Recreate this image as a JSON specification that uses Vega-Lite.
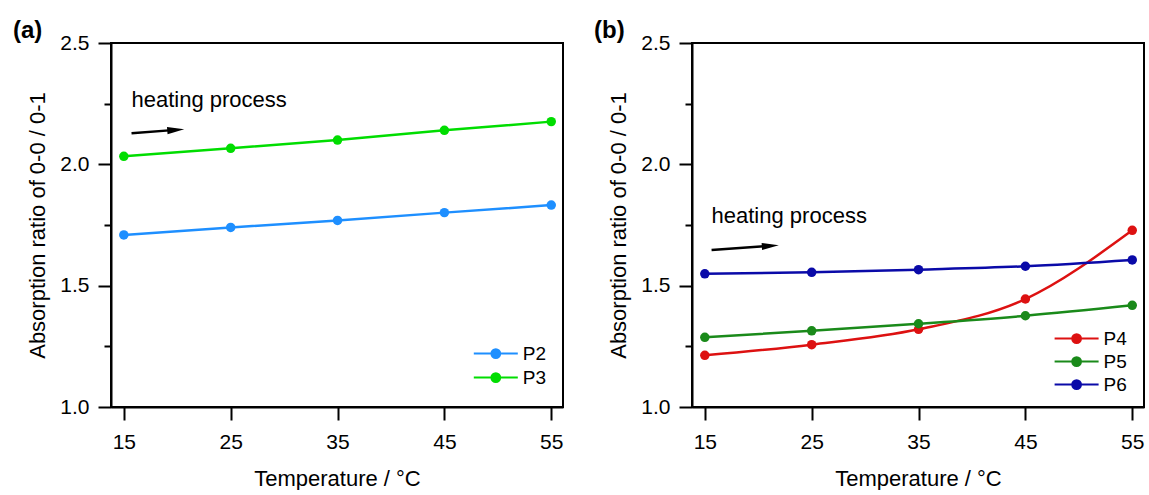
{
  "$schema": "https://vega.github.io/schema/vega-lite/v6.json",
  "padding": {"left": 12, "top": 18, "right": 0, "bottom": 0},
  "background": "white",
  "spacing": 129,
  "bounds": "flush",
  "config": {
    "font": "Liberation Sans",
    "view": {"stroke": "black", "strokeWidth": 2},
    "axis": {
      "domainColor": "black", "domainWidth": 2, "tickColor": "black", "tickWidth": 2,
      "labelColor": "black", "titleColor": "black", "labelFont": "Liberation Sans", "titleFont": "Liberation Sans",
      "labelFontSize": 21, "titleFontSize": 22, "titleFontWeight": "normal", "grid": false,
      "labelOverlap": false, "labelFlush": false
    },
    "title": {"font": "Liberation Sans", "fontSize": 24, "fontWeight": "bold", "anchor": "start", "frame": "group", "color": "black", "dx": -98, "offset": -11},
    "legend": {
      "orient": "none", "title": null, "padding": 0,
      "symbolType": "M-2,0H2M-0.4,0A0.4,0.4 0 1 1 0.4,0A0.4,0.4 0 1 1 -0.4,0Z",
      "symbolSize": 484, "symbolStrokeWidth": 2,
      "labelFont": "Liberation Sans", "labelFontSize": 19, "labelColor": "black", "labelOffset": 15
    }
  },
  "datasets": {
    "a": [
      {"T": 15, "R": 1.709, "S": "P2"}, {"T": 25, "R": 1.740, "S": "P2"}, {"T": 35, "R": 1.769, "S": "P2"}, {"T": 45, "R": 1.801, "S": "P2"}, {"T": 55, "R": 1.832, "S": "P2"},
      {"T": 15, "R": 2.033, "S": "P3"}, {"T": 25, "R": 2.066, "S": "P3"}, {"T": 35, "R": 2.100, "S": "P3"}, {"T": 45, "R": 2.140, "S": "P3"}, {"T": 55, "R": 2.176, "S": "P3"}
    ],
    "b": [
      {"T": 15, "R": 1.213, "S": "P4"}, {"T": 25, "R": 1.257, "S": "P4"}, {"T": 35, "R": 1.320, "S": "P4"}, {"T": 45, "R": 1.445, "S": "P4"}, {"T": 55, "R": 1.728, "S": "P4"},
      {"T": 15, "R": 1.287, "S": "P5"}, {"T": 25, "R": 1.314, "S": "P5"}, {"T": 35, "R": 1.343, "S": "P5"}, {"T": 45, "R": 1.376, "S": "P5"}, {"T": 55, "R": 1.419, "S": "P5"},
      {"T": 15, "R": 1.549, "S": "P6"}, {"T": 25, "R": 1.555, "S": "P6"}, {"T": 35, "R": 1.566, "S": "P6"}, {"T": 45, "R": 1.580, "S": "P6"}, {"T": 55, "R": 1.606, "S": "P6"}
    ],
    "annA": [{"x": 15.72, "y": 2.128, "x2": 19.86, "y2": 2.142, "label": "heating process", "ly": 2.237}],
    "annB": [{"x": 15.63, "y": 1.647, "x2": 21.13, "y2": 1.664, "label": "heating process", "ly": 1.757}]
  },
  "resolve": {"scale": {"color": "independent"}, "legend": {"color": "independent"}},
  "hconcat": [
    {
      "width": 452, "height": 364,
      "title": {"text": "(a)"},
      "layer": [
        {
          "data": {"name": "a"},
          "mark": {"type": "line", "strokeWidth": 2.5, "point": {"filled": true, "size": 90}},
          "encoding": {
            "x": {"field": "T", "type": "quantitative", "scale": {"domain": [13.8, 56.1], "nice": false, "zero": false},
              "axis": {"title": "Temperature / °C", "values": [15, 25, 35, 45, 55], "tickSize": 13, "labelPadding": 11, "titlePadding": 16,
                "labelFontSize": 21, "titleFontSize": 22, "labelFont": "Liberation Sans", "titleFont": "Liberation Sans"}},
            "y": {"field": "R", "type": "quantitative", "scale": {"domain": [1, 2.5], "nice": false, "zero": false},
              "axis": {"title": "Absorption ratio of 0-0 / 0-1", "values": [1, 1.25, 1.5, 1.75, 2, 2.25, 2.5],
                "labelExpr": "(datum.value*4) % 2 == 1 ? '' : format(datum.value, '.1f')",
                "tickSize": {"condition": {"test": "(datum.value*4) % 2 == 1", "value": 7}, "value": 13},
                "labelPadding": 9, "titlePadding": 10,
                "labelFontSize": 21, "titleFontSize": 22, "labelFont": "Liberation Sans", "titleFont": "Liberation Sans"}},
            "color": {"field": "S", "type": "nominal", "scale": {"domain": ["P2", "P3"], "range": ["#1E8FFF", "#00DD00"]},
              "legend": {"legendX": 372.8, "legendY": 298.6, "rowPadding": 2,
                "encode": {"symbols": {"update": {
                  "fill": {"signal": "datum.value === 'P2' ? '#1E8FFF' : '#00DD00'"},
                  "stroke": {"signal": "datum.value === 'P2' ? '#1E8FFF' : '#00DD00'"},
                  "strokeWidth": {"value": 2}, "opacity": {"value": 1}}}}}}
          }
        },
        {
          "data": {"name": "annA"},
          "mark": {"type": "rule", "strokeWidth": 2.5, "color": "black"},
          "encoding": {
            "x": {"field": "x", "type": "quantitative"}, "y": {"field": "y", "type": "quantitative"},
            "x2": {"field": "x2"}, "y2": {"field": "y2"}
          }
        },
        {
          "data": {"name": "annA"},
          "mark": {"type": "point", "shape": "M-1,-0.42L1,0L-1,0.42Z", "size": 289, "filled": true, "color": "black", "opacity": 1, "angle": 355.3},
          "encoding": {
            "x": {"field": "x2", "type": "quantitative"}, "y": {"field": "y2", "type": "quantitative"}
          }
        },
        {
          "data": {"name": "annA"},
          "mark": {"type": "text", "align": "left", "baseline": "alphabetic", "fontSize": 22, "font": "Liberation Sans", "color": "black"},
          "encoding": {
            "x": {"field": "x", "type": "quantitative"}, "y": {"field": "ly", "type": "quantitative"},
            "text": {"field": "label"}
          }
        }
      ]
    },
    {
      "width": 452, "height": 364,
      "title": {"text": "(b)"},
      "layer": [
        {
          "data": {"name": "b"},
          "mark": {"type": "line", "strokeWidth": 2.5, "interpolate": "monotone", "point": {"filled": true, "size": 90}},
          "encoding": {
            "x": {"field": "T", "type": "quantitative", "scale": {"domain": [13.8, 56.1], "nice": false, "zero": false},
              "axis": {"title": "Temperature / °C", "values": [15, 25, 35, 45, 55], "tickSize": 13, "labelPadding": 11, "titlePadding": 16,
                "labelFontSize": 21, "titleFontSize": 22, "labelFont": "Liberation Sans", "titleFont": "Liberation Sans"}},
            "y": {"field": "R", "type": "quantitative", "scale": {"domain": [1, 2.5], "nice": false, "zero": false},
              "axis": {"title": "Absorption ratio of 0-0 / 0-1", "values": [1, 1.25, 1.5, 1.75, 2, 2.25, 2.5],
                "labelExpr": "(datum.value*4) % 2 == 1 ? '' : format(datum.value, '.1f')",
                "tickSize": {"condition": {"test": "(datum.value*4) % 2 == 1", "value": 7}, "value": 13},
                "labelPadding": 9, "titlePadding": 10,
                "labelFontSize": 21, "titleFontSize": 22, "labelFont": "Liberation Sans", "titleFont": "Liberation Sans"}},
            "color": {"field": "S", "type": "nominal", "scale": {"domain": ["P4", "P5", "P6"], "range": ["#DD1111", "#1A8A1A", "#0A0AA8"]},
              "legend": {"legendX": 372.6, "legendY": 283.6, "rowPadding": 1,
                "encode": {"symbols": {"update": {
                  "fill": {"signal": "datum.value === 'P4' ? '#DD1111' : datum.value === 'P5' ? '#1A8A1A' : '#0A0AA8'"},
                  "stroke": {"signal": "datum.value === 'P4' ? '#DD1111' : datum.value === 'P5' ? '#1A8A1A' : '#0A0AA8'"},
                  "strokeWidth": {"value": 2}, "opacity": {"value": 1}}}}}}
          }
        },
        {
          "data": {"name": "annB"},
          "mark": {"type": "rule", "strokeWidth": 2.5, "color": "black"},
          "encoding": {
            "x": {"field": "x", "type": "quantitative"}, "y": {"field": "y", "type": "quantitative"},
            "x2": {"field": "x2"}, "y2": {"field": "y2"}
          }
        },
        {
          "data": {"name": "annB"},
          "mark": {"type": "point", "shape": "M-1,-0.42L1,0L-1,0.42Z", "size": 289, "filled": true, "color": "black", "opacity": 1, "angle": 356},
          "encoding": {
            "x": {"field": "x2", "type": "quantitative"}, "y": {"field": "y2", "type": "quantitative"}
          }
        },
        {
          "data": {"name": "annB"},
          "mark": {"type": "text", "align": "left", "baseline": "alphabetic", "fontSize": 22, "font": "Liberation Sans", "color": "black"},
          "encoding": {
            "x": {"field": "x", "type": "quantitative"}, "y": {"field": "ly", "type": "quantitative"},
            "text": {"field": "label"}
          }
        }
      ]
    }
  ]
}
